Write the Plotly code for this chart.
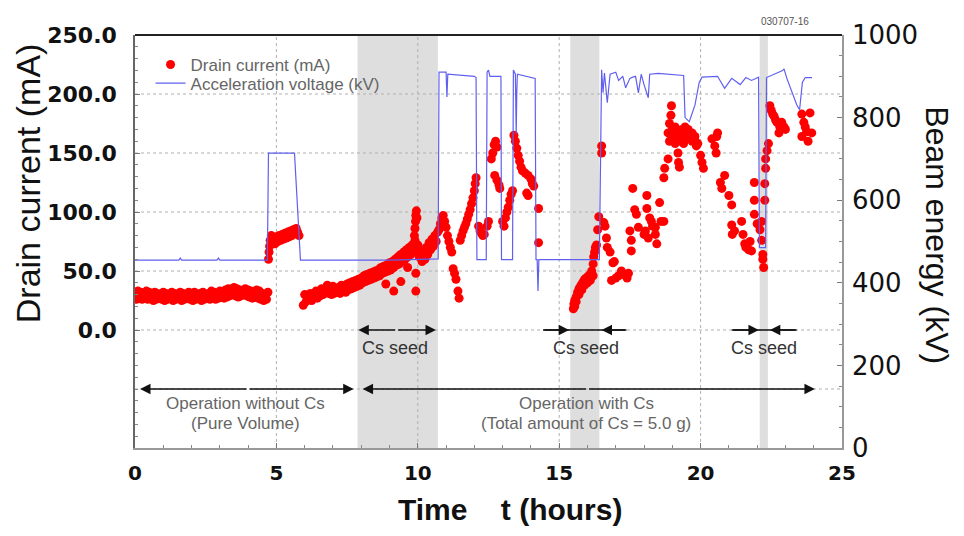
import plotly.graph_objects as go

# ---------------- data ----------------
# Drain current (mA) segments: time (h) and value
seg1_t = [0.0,0.1,0.2,0.3,0.4,0.5,0.6,0.7,0.8,0.9,1.0,1.1,1.2,1.3,1.4,1.5,1.6,1.7,1.8,1.9,2.0,2.1,2.2,2.3,2.4,2.5,2.6,2.7,2.8,2.9,3.0,3.1,3.2,3.3,3.4,3.5,3.6,3.7,3.8,3.9,4.0,4.1,4.2,4.3,4.4,4.5,4.6,4.7,
          0.05,0.15,0.25,0.35,0.45,0.55,0.65,0.75,0.85,0.95,1.05,1.15,1.25,1.35,1.45,1.55,1.65,1.75,1.85,1.95,2.05,2.15,2.25,2.35,2.45,2.55,2.65,2.75,2.85,2.95,3.05,3.15,3.25,3.35,3.45,3.55,3.65,3.75,3.85,3.95,4.05,4.15,4.25,4.35,4.45,4.55,4.65]
seg1_mA = [30,33,32,31,33,32,31,32,31,30,32,31,30,32,31,30,32,31,30,32,31,32,30,31,32,30,31,33,32,31,33,32,34,35,34,36,35,34,33,35,34,33,32,34,33,31,30,32,
           26,27,26,27,26,27,25,26,27,26,25,26,27,25,26,27,25,26,27,26,25,26,27,25,26,27,26,27,26,27,28,27,28,29,30,29,28,29,30,29,28,27,28,27,26,25,26]

seg2_t = [4.72,4.74,4.76,4.78,4.82,4.85,4.9,4.95,5.0,5.05,5.1,5.15,5.2,5.25,5.3,5.35,5.4,5.45,5.5,5.55,5.6,5.65,5.7,5.75,5.8]
seg2_mA = [60,66,71,76,80,74,78,73,79,75,80,76,81,77,82,78,83,79,84,80,85,82,86,83,80]

seg3_t = [6.0,6.1,6.2,6.3,6.4,6.5,6.6,6.7,6.8,6.9,7.0,7.1,7.2,7.3,7.4,7.5,7.6,7.7,7.8,7.9,8.0,8.1,8.2,8.3,8.4,8.5,8.6,8.7,8.8,8.9,9.0,9.1,9.2,9.3,9.4,9.5,9.6,9.7,9.8,9.9,10.0,10.1,10.2,10.3,10.4,10.5,10.6,10.7,
          5.95,6.05,6.15,6.25,6.35,6.45,6.55,6.65,6.75,6.85,6.95,7.05,7.15,7.25,7.35,7.45,7.55,7.65,7.75,7.85,7.95,8.05,8.15,8.25,8.35,8.45,8.55,8.65,8.75,8.85,8.95,9.05,9.15,9.25,9.35,9.45,9.55,9.65,9.75,9.85,9.95,10.05,10.15,10.25,10.35,10.45,10.55,10.65,
          9.88,9.9,9.92,9.93,9.95,9.97,8.87,9.15,9.4,9.64,9.93,9.93]
seg3_mA = [30,27,31,29,33,31,35,33,38,36,37,35,36,38,37,39,40,41,42,43,44,46,47,48,49,50,51,53,54,55,57,58,60,62,64,66,68,70,72,76,72,67,66,70,74,77,80,83,
           21,24,26,25,28,27,29,30,32,31,30,31,32,31,33,32,34,35,36,37,38,40,41,42,43,44,45,46,48,49,50,51,53,55,56,58,60,62,64,66,68,62,58,60,64,68,71,75,
           80,86,92,97,101,95,39,33,41,53,48,33]

seg4_t = [10.75,10.8,10.85,10.9,10.95,11.0,11.05,11.1,11.15,11.2,11.25,11.3,11.35,11.42,11.46,
          11.5,11.55,11.6,11.65,11.7,11.75,11.8,11.85,11.9,11.95,12.0,12.03,12.06,
          12.15,12.2,12.25,12.3,12.35,12.45,12.5,
          12.6,12.65,12.7,12.75,12.8,12.72,12.8,12.87,12.9,
          13.0,13.05,13.1,13.15,13.2,13.25,13.3,13.35,
          13.4,13.45,13.5,13.55,13.6,13.65,13.7,13.8,13.9,14.0,14.05,14.1,13.85,13.9,
          14.27,14.27]
seg4_mA = [85,90,95,97,92,87,80,75,70,66,52,48,43,33,27,
           76,80,84,87,90,94,98,102,107,112,118,124,129,
           88,84,82,80,81,88,92,
           145,150,157,160,155,131,127,123,120,
           92,88,95,100,104,110,115,118,
           165,160,154,148,143,138,135,133,131,128,124,122,116,114,
           103,74]

seg5_t = [15.5,15.52,15.55,15.6,15.65,15.7,15.75,15.8,15.85,15.9,15.95,16.0,16.05,16.1,16.15,16.2,16.22,16.25,16.28,16.32,16.36,16.4,
          15.55,15.6,15.7,15.8,15.9,16.0,16.1,16.2,
          16.5,16.5,16.58,16.62,16.67,16.7,16.8,16.9,16.85,17.0,17.1,17.2,17.3,17.4,17.45,16.95]
seg5_mA = [18,22,25,28,32,35,37,39,41,43,44,45,46,47,50,56,62,66,70,72,85,96,
           20,24,30,34,38,40,42,46,
           150,156,91,88,78,70,66,57,42,44,46,50,47,44,48,58]

seg6_t = [17.5,17.55,17.55,17.6,17.67,17.73,17.8,
          18.0,18.05,18.1,18.1,18.15,18.2,18.26,18.3,18.4,18.4,18.45,18.55,18.6,18.7,18.7,18.73,
          18.85,18.85,18.9,18.95,18.97,19.0,19.05,19.1,19.15,19.2,19.22,19.25,19.3,19.35,19.4,19.45,19.5,19.56,19.6,19.7,19.8,19.85,19.9,20.0,20.05,20.1,
          18.9,19.0,19.1,19.2,19.3,19.4,19.5,19.6,19.7,19.8,
          20.4,20.5,20.55,20.57,20.6,
          20.7,20.75,20.85,21.0,21.1,21.1,21.12,21.2,21.45,21.5,21.56,21.6,21.7,21.8,21.75,
          21.9,21.9,21.9,22.0,22.1,22.16,22.16,22.2,22.23,22.2,22.27,22.27,22.3,22.3,22.35,22.4]
seg6_mA = [84,76,67,120,102,98,87,
           81,84,114,103,78,95,92,88,87,81,73,108,92,92,129,137,
           167,145,175,182,190,170,165,172,168,150,142,138,164,170,166,172,168,170,165,160,164,156,158,148,142,137,
           160,162,158,163,160,158,164,162,167,160,
           162,156,150,164,167,
           125,120,131,114,106,89,81,84,92,81,73,70,68,67,75,
           125,110,98,90,85,92,76,64,53,60,124,110,137,145,152,158]

seg7_t = [22.45,22.5,22.55,22.6,22.65,22.7,22.77,22.8,22.87,22.95,23.0,
          23.58,23.65,23.7,23.75,23.87,23.93,23.58,23.8]
seg7_mA = [190,186,183,181,178,176,167,172,176,172,170,
           183,176,172,168,184,167,164,160]

# Acceleration voltage (kV)
volt_t = [0,1.55,1.6,1.65,2.9,2.95,3.0,4.68,4.72,5.64,5.85,9.0,10.72,10.75,11.0,11.03,11.06,12.0,12.06,12.09,
          12.42,12.45,12.5,12.55,12.94,12.96,13.35,13.38,13.45,13.48,13.5,13.52,14.15,14.18,14.22,14.25,14.28,
          16.42,16.5,16.55,16.6,16.7,16.8,17.0,17.1,17.25,17.35,17.5,17.6,17.7,17.8,17.9,18.0,18.15,18.2,18.5,
          19.4,19.45,19.6,19.8,19.95,20.05,20.6,20.85,21.1,21.4,21.6,21.8,22.05,22.08,22.3,22.33,
          22.9,22.95,23.05,23.4,23.5,23.6,23.7,23.94]
volt_kV = [455,455,460,455,455,460,455,455,714,714,455,455,458,910,910,850,905,900,897,456,
           456,910,915,900,900,456,456,915,905,760,860,905,895,456,456,380,456,
           456,916,860,908,836,905,910,890,900,872,895,898,900,860,905,880,848,905,907,
           902,800,790,830,885,898,900,871,895,880,897,890,898,485,485,897,
           914,918,895,831,819,886,897,897]

# Cs-seed shaded periods (h)
band_start = [7.87, 15.39, 22.09]
band_end = [10.71, 16.42, 22.38]

left_ticks = [0, 50, 100, 150, 200, 250]
left_labels = ["0.0", "50.0", "100.0", "150.0", "200.0", "250.0"]
right_ticks = [0, 200, 400, 600, 800, 1000]
x_ticks = [0, 5, 10, 15, 20, 25]
grid_y = [-50, 0, 50, 100, 150, 200]
grid_x = [5, 10, 15, 20]

drain_t = seg1_t + seg2_t + seg3_t + seg4_t + seg5_t + seg6_t + seg7_t
drain_mA = seg1_mA + seg2_mA + seg3_mA + seg4_mA + seg5_mA + seg6_mA + seg7_mA

fig = go.Figure()
fig.add_trace(go.Scatter(x=drain_t, y=drain_mA, mode="markers", name="Drain current (mA)",
                         marker=dict(color="#ff0000", size=9, line=dict(width=0)), yaxis="y", legend="legend"))
fig.add_trace(go.Scatter(x=volt_t, y=volt_kV, mode="lines", name="Acceleration voltage (kV)",
                         line=dict(color="#6060f0", width=1.2), yaxis="y2", legend="legend2"))

shapes = []
for s, e in zip(band_start, band_end):
    shapes.append(dict(type="rect", xref="x", yref="paper", x0=s, x1=e, y0=0, y1=1,
                       fillcolor="rgba(190,190,190,0.5)", line=dict(width=0), layer="below"))
for gy in grid_y:
    shapes.append(dict(type="line", xref="paper", yref="y", x0=0, x1=1, y0=gy, y1=gy,
                       line=dict(color="#b0b0b0", width=1, dash="dot"), layer="below"))
for gx in grid_x:
    shapes.append(dict(type="line", xref="x", yref="paper", x0=gx, x1=gx, y0=0, y1=1,
                       line=dict(color="#b0b0b0", width=1, dash="dot"), layer="below"))
# frame top
shapes.append(dict(type="line", xref="paper", yref="paper", x0=0, x1=1, y0=1, y1=1,
                   line=dict(color="#222", width=2)))
# arrow lines for inward-pointing Cs seed arrows
shapes.append(dict(type="line", xref="x", yref="y", x0=14.43, x1=17.38, y0=0, y1=0, line=dict(color="#111", width=1.5)))
shapes.append(dict(type="line", xref="x", yref="y", x0=21.1, x1=23.4, y0=0, y1=0, line=dict(color="#111", width=1.5)))

ann = []
def arrow(xh, xt, y):
    ann.append(dict(x=xh, y=y, ax=xt, ay=y, xref="x", yref="y", axref="x", ayref="y", text="",
                    showarrow=True, arrowhead=2, arrowsize=1.3, arrowwidth=1.6, arrowcolor="#111", standoff=0))

arrow(7.9, 9.25, 0); arrow(10.64, 9.25, 0)
arrow(15.35, 14.43, 0); arrow(16.5, 17.38, 0)
arrow(22.06, 21.1, 0); arrow(22.45, 23.4, 0)
arrow(0.18, 4.0, -50); arrow(7.73, 4.0, -50)
arrow(8.05, 16.0, -50); arrow(24.04, 16.0, -50)

def txt(x, y, s, size=18, color="#555", xref="x", yref="y", angle=0, weight="normal", family="Arial"):
    ann.append(dict(x=x, y=y, xref=xref, yref=yref, text=s, showarrow=False, textangle=angle,
                    xanchor="center", yanchor="middle",
                    font=dict(size=size, color=color, family=family, weight=weight)))

txt(9.2, -15, "Cs seed", color="#333")
txt(15.96, -15, "Cs seed", color="#333")
txt(22.23, -15, "Cs seed", color="#333")
txt(3.9, -62, "Operation without Cs", size=17, color="#666")
txt(3.9, -79, "(Pure Volume)", size=17, color="#666")
txt(15.96, -62, "Operation with Cs", size=17, color="#666")
txt(15.96, -79, "(Total amount of Cs = 5.0 g)", size=17, color="#666")
txt(0.919, 1.033, "030707-16", size=10, color="#555", xref="paper", yref="paper")
txt(-0.152, 0.64, "Drain current (mA)", size=34, color="#111", xref="paper", yref="paper", angle=-90)
txt(1.1344, 0.515, "Beam energy (kV)", size=32, color="#111", xref="paper", yref="paper", angle=90)
txt(0.53, -0.148, "Time\u00a0\u00a0\u00a0\u00a0t (hours)", size=30, color="#111", xref="paper", yref="paper", weight="bold")

fig.update_layout(
    width=948, height=520,
    margin=dict(l=127, r=114, t=21, b=80),
    paper_bgcolor="white", plot_bgcolor="white",
    showlegend=True,
    legend=dict(x=0.022, y=0.971, xanchor="left", yanchor="top", bgcolor="rgba(0,0,0,0)",
                font=dict(size=17, color="#666", family="Arial"), tracegroupgap=0, itemwidth=30),
    legend2=dict(x=0.022, y=0.926, xanchor="left", yanchor="top", bgcolor="rgba(0,0,0,0)",
                 font=dict(size=17, color="#666", family="Arial"), tracegroupgap=0, itemwidth=30),
    xaxis=dict(range=[0, 25], tickvals=x_ticks, showgrid=False, zeroline=False,
               ticks="inside", ticklen=5, tickcolor="#777", showline=True, linecolor="#999", linewidth=1.5,
               minor=dict(dtick=1, ticks="inside", ticklen=3, tickcolor="#888"),
               tickfont=dict(family="DejaVu Sans", size=20, color="#111", weight="bold"), ticklabelstandoff=6),
    yaxis=dict(range=[-100, 250], tickvals=left_ticks, ticktext=left_labels, showgrid=False, zeroline=False,
               ticks="inside", ticklen=5, tickcolor="#777", showline=True, linecolor="#666", linewidth=1.5,
               minor=dict(dtick=10, ticks="inside", ticklen=3, tickcolor="#888"),
               tickfont=dict(family="DejaVu Sans", size=22, color="#111", weight="bold"), ticklabelstandoff=12),
    yaxis2=dict(range=[0, 1000], tickvals=right_ticks, overlaying="y", side="right", showgrid=False, zeroline=False,
                ticks="inside", ticklen=5, tickcolor="#777", showline=True, linecolor="#999", linewidth=1.5,
                minor=dict(dtick=50, ticks="inside", ticklen=3, tickcolor="#888"),
                tickfont=dict(family="DejaVu Sans", size=26, color="#111"), ticklabelstandoff=3),
    shapes=shapes, annotations=ann,
)

fig.write_html("out.html")
